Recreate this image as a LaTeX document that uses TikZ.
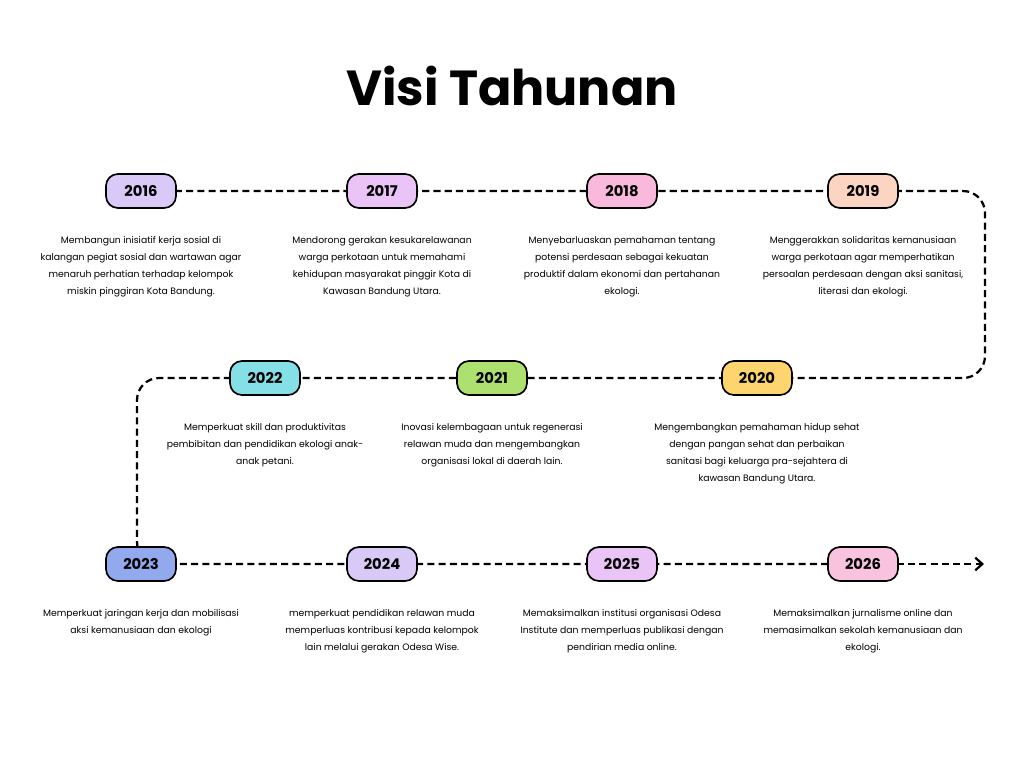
\documentclass[tikz,border=0pt]{standalone}
\usepackage{fontspec}
\setmainfont{Poppins}
\usetikzlibrary{positioning}
\usetikzlibrary{arrows.meta}

\definecolor{lavA}{HTML}{D9C9F7}
\definecolor{lilA}{HTML}{EAC3F7}
\definecolor{pinkA}{HTML}{F8B9DD}
\definecolor{peachA}{HTML}{FCD4C2}
\definecolor{yellowA}{HTML}{FCD56E}
\definecolor{greenA}{HTML}{AEE070}
\definecolor{cyanA}{HTML}{85DFE6}
\definecolor{blueA}{HTML}{92A9EE}
\definecolor{pinkB}{HTML}{F9C3E0}

\tikzset{
  year/.style={draw=black, line width=1.2pt, rounded corners=8.5pt, minimum width=1.75cm,
    minimum height=0.85cm, inner sep=0pt, font=\bfseries\fontsize{10.5}{12}\selectfont},
  desc/.style={align=center, inner sep=0pt,
    font=\fontsize{6.6}{12.2}\selectfont},
  trail/.style={line width=1.6pt, dash pattern=on 5pt off 3pt, rounded corners=0.55cm}
}

\begin{document}
\begin{tikzpicture}[x=0.025cm,y=-0.025cm]
   % Border.
   \useasboundingbox (0,0) rectangle (1024,768);
   % Title.
   \node (title) at (512,86) {\bfseries\fontsize{35}{40}\selectfont Visi Tahunan};
   % Corners of the trail.
   \coordinate (c1) at (985,191);
   \coordinate (c2) at (985,378);
   \coordinate (c3) at (137,378);
   \coordinate (c4) at (137,564);
   \coordinate (tip) at (984,564);
   % Trail.
   \draw[trail] (141,191) -- (c1) -- (c2) -- (c3) -- (c4) -- (863,564);
   \draw[trail,-{Straight Barb[length=5pt,width=9pt]}] (863,564) -- (tip);
   % Years.
   \node[year,fill=lavA] (y16) at (141,191) {2016};
   \node[year,fill=lilA] (y17) at (382,191) {2017};
   \node[year,fill=pinkA] (y18) at (622,191) {2018};
   \node[year,fill=peachA] (y19) at (863,191) {2019};
   \node[year,fill=yellowA] (y20) at (757,378) {2020};
   \node[year,fill=greenA] (y21) at (492,378) {2021};
   \node[year,fill=cyanA] (y22) at (265,378) {2022};
   \node[year,fill=blueA] (y23) at (141,564) {2023};
   \node[year,fill=lavA] (y24) at (382,564) {2024};
   \node[year,fill=lilA] (y25) at (622,564) {2025};
   \node[year,fill=pinkB] (y26) at (863,564) {2026};
   % Texts.
   \node[desc,below=0.68cm of y16] (t16) {Membangun inisiatif kerja sosial di\\kalangan pegiat sosial dan wartawan agar\\menaruh perhatian terhadap kelompok\\miskin pinggiran Kota Bandung.};
   \node[desc,below=0.68cm of y17] (t17) {Mendorong gerakan kesukarelawanan\\warga perkotaan untuk memahami\\kehidupan masyarakat pinggir Kota di\\Kawasan Bandung Utara.};
   \node[desc,below=0.68cm of y18] (t18) {Menyebarluaskan pemahaman tentang\\potensi perdesaan sebagai kekuatan\\produktif dalam ekonomi dan pertahanan\\ekologi.};
   \node[desc,below=0.68cm of y19] (t19) {Menggerakkan solidaritas kemanusiaan\\warga perkotaan agar memperhatikan\\persoalan perdesaan dengan aksi sanitasi,\\literasi dan ekologi.};
   \node[desc,below=0.68cm of y20] (t20) {Mengembangkan pemahaman hidup sehat\\dengan pangan sehat dan perbaikan\\sanitasi bagi keluarga pra-sejahtera di\\kawasan Bandung Utara.};
   \node[desc,below=0.68cm of y21] (t21) {Inovasi kelembagaan untuk regenerasi\\relawan muda dan mengembangkan\\organisasi lokal di daerah lain.};
   \node[desc,below=0.68cm of y22] (t22) {Memperkuat skill dan produktivitas\\pembibitan dan pendidikan ekologi anak-\\anak petani.};
   \node[desc,below=0.68cm of y23] (t23) {Memperkuat jaringan kerja dan mobilisasi\\aksi kemanusiaan dan ekologi};
   \node[desc,below=0.68cm of y24] (t24) {memperkuat pendidikan relawan muda\\memperluas kontribusi kepada kelompok\\lain melalui gerakan Odesa Wise.};
   \node[desc,below=0.68cm of y25] (t25) {Memaksimalkan institusi organisasi Odesa\\Institute dan memperluas publikasi dengan\\pendirian media online.};
   \node[desc,below=0.68cm of y26] (t26) {Memaksimalkan jurnalisme online dan\\memasimalkan sekolah kemanusiaan dan\\ekologi.};
\end{tikzpicture}
\end{document}
